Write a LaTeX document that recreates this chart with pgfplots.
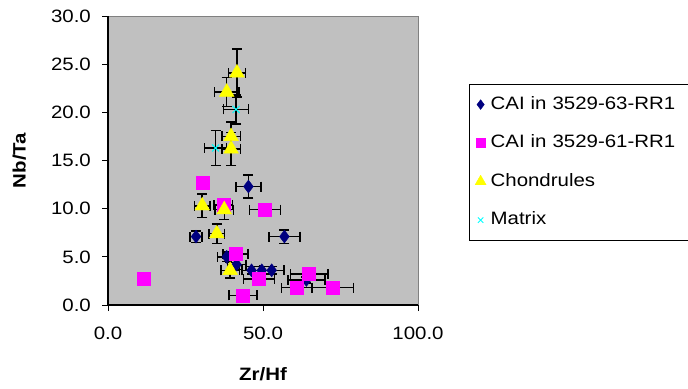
\documentclass[border=0pt]{standalone}
\usepackage{fontspec}
\setmainfont{Liberation Sans}[FakeStretch=1.14]
\usepackage{pgfplots}
\usepackage{pgfplotstable}
\pgfplotsset{compat=1.18}
\definecolor{plotbg}{RGB}{192,192,192}
\definecolor{bordergray}{RGB}{128,128,128}
\definecolor{cainavy}{RGB}{0,0,128}
\definecolor{caimag}{RGB}{255,0,255}
\definecolor{chyel}{RGB}{255,255,0}
\definecolor{mxcyan}{RGB}{0,255,255}
\pgfplotsset{
  legmark/.style={legend image code/.code={\draw[mark repeat=2,mark phase=2,##1,every mark/.append style={scale=#1}] plot coordinates {(0cm,0cm) (0.3cm,0cm) (0.6cm,0cm)};}},
}

\pgfplotstableread{
x y ex ey
28.4 7.1 2.0 0.6
45.3 12.3 4.0 1.2
56.9 7.1 5.0 0.7
38.3 5.0 3.0 0.5
41.5 4.2 3.0 0.5
46.3 3.6 3.0 0.4
49.6 3.6 3.0 0.4
52.8 3.6 4.0 0.4
64.0 2.6 6.0 0.3
}\caiA

\pgfplotstableread{
x y ex ey
11.4 2.7 0.5 0.3
30.7 12.7 2.0 0.4
37.2 10.4 3.0 0.5
50.6 9.9 5.0 0.4
41.1 5.3 4.0 0.5
48.7 2.7 5.0 0.4
43.6 1.0 4.5 0.2
60.9 1.8 5.0 0.3
64.9 3.2 6.0 0.3
72.5 1.8 6.7 0.2
}\caiB

\pgfplotstableread{
x y ex ey
41.6 24.1 2.7 2.5
38.3 22.1 4.0 1.5
39.7 17.5 3.0 1.5
39.7 16.2 3.0 1.7
30.4 10.3 2.5 1.2
37.5 9.9 3.0 1.0
35.1 7.4 2.5 1.0
39.4 3.6 3.0 0.8
}\chond

\pgfplotstableread{
x y ex ey
41.3 20.3 4.0 1.5
34.7 16.3 3.5 1.8
}\matrixdata

\begin{document}
\fontsize{18}{21}\selectfont
\begin{tikzpicture}
\begin{axis}[
  at={(108bp,84bp)}, anchor=south west,
  scale only axis, width=310bp, height=289bp,
  xmin=0, xmax=100, ymin=0, ymax=30,
  xtick={0,50,100}, ytick={0,5,...,30},
  axis background/.style={fill=plotbg, draw=bordergray, line width=1pt},
  axis x line*=bottom, axis y line*=left,
  axis line style={black, line width=1.2pt},
  tick align=outside, major tick length=6bp,
  tick style={black, line width=1pt},
  /pgf/number format/assume math mode=true,
  /pgf/number format/.cd, fixed, fixed zerofill, precision=1, /pgfplots/.cd,
  xticklabel style={yshift=-10bp},
  yticklabel style={xshift=-5bp},
  xlabel={\bfseries Zr/Hf}, ylabel={\bfseries Nb/Ta},
  xlabel style={yshift=-15bp},
  ylabel style={yshift=13bp},
  legend style={at={(1.1645,0.7647)}, anchor=north west, draw=black, line width=1.2pt,
    inner xsep=5.5bp, inner ysep=8.5bp, row sep=15.5bp, column sep=2bp,
    nodes={inner xsep=2.5bp, inner ysep=3bp, text height=13bp, text depth=4bp, text width=200bp}},
  legend cell align=left,
  error bars/error bar style={black, line width=1.5pt},
  error bars/error mark options={rotate=90, mark size=5bp, line width=1.5pt, black},
]
\addplot[only marks, mark=diamond*, mark size=6.5bp, color=cainavy, mark options={line width=0.4pt},
  legmark=0.75,
  error bars/.cd, x dir=both, x explicit, y dir=both, y explicit]
  table[x=x, y=y, x error=ex, y error=ey] {\caiA};
\addlegendentry{CAI in 3529-63-RR1}
\addplot[only marks, mark=square*, mark size=6.5bp, color=caimag, mark options={line width=0.4pt},
  legmark=0.68,
  error bars/.cd, x dir=both, x explicit, y dir=both, y explicit]
  table[x=x, y=y, x error=ex, y error=ey] {\caiB};
\addlegendentry{CAI in 3529-61-RR1}
\addplot[only marks, mark=triangle*, mark size=8.5bp, color=chyel, mark options={line width=0.4pt},
  legmark=0.75,
  error bars/.cd, x dir=both, x explicit, y dir=both, y explicit]
  table[x=x, y=y, x error=ex, y error=ey] {\chond};
\addlegendentry{Chondrules}
\addplot[only marks, mark=x, mark size=5bp, color=mxcyan, mark options={line width=1pt},
  legmark=0.75,
  error bars/.cd, x dir=both, x explicit, y dir=both, y explicit]
  table[x=x, y=y, x error=ex, y error=ey] {\matrixdata};
\addlegendentry{Matrix}
\end{axis}
\pgfresetboundingbox
\path[use as bounding box] (0,0) rectangle (688bp,389bp);
\end{tikzpicture}
\end{document}
